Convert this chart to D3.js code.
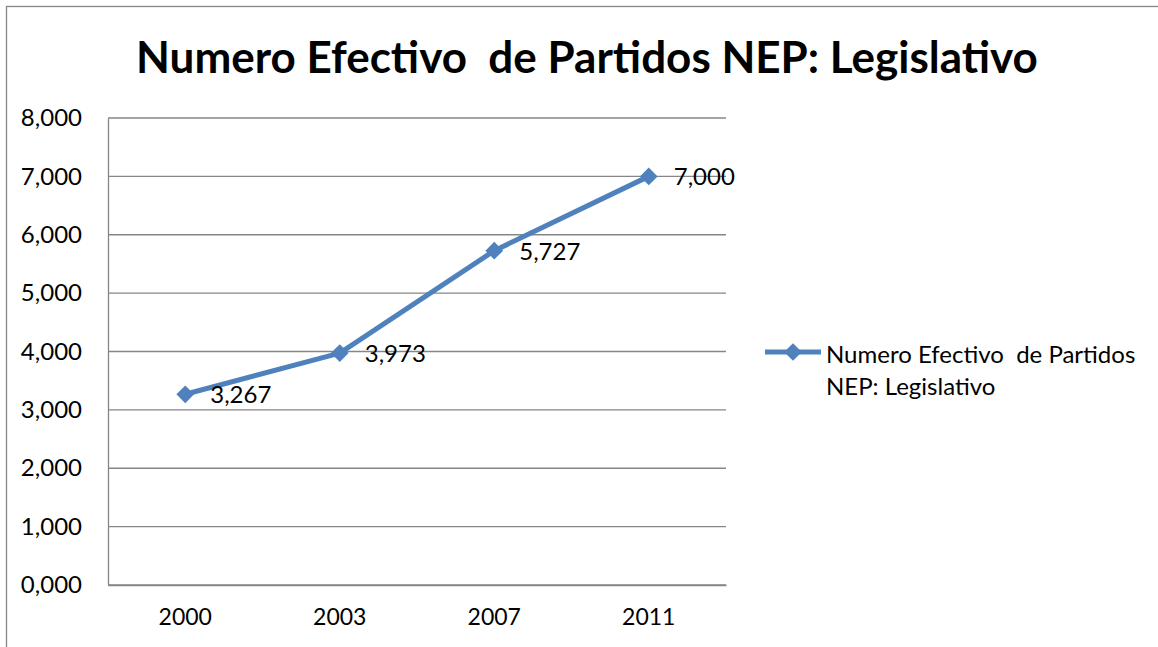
<!DOCTYPE html>
<html>
<head>
<meta charset="utf-8">
<script src="https://cdn.jsdelivr.net/npm/d3@7"></script>
<style>
body { margin: 0; background: #fff; }
text { font-family: Lato, "Open Sans", sans-serif; fill: #000; white-space: pre; }
</style>
</head>
<body>
<div id="chart"></div>
<script>
// data
var years = ['2000', '2003', '2007', '2011'];
var nepValues = [3.267, 3.973, 5.727, 7.000];
var yTicks = [0, 1, 2, 3, 4, 5, 6, 7, 8];
var seriesName = ['Numero Efectivo  de Partidos', 'NEP: Legislativo'];
var chartTitle = 'Numero Efectivo  de Partidos NEP: Legislativo';

var svgWidth = 1158,
svgHeight = 647;

var margin = {t: 118, r: 432, b: 62, l: 108};
var width = svgWidth - margin.l - margin.r,
height = svgHeight - margin.t - margin.b;

var lineColor = '#4f81bd';
var fmt = function(v) { return d3.format('.3f')(v).replace('.', ','); };

var svg = d3.select('#chart')
	.append('svg')
	.attr('width', svgWidth)
	.attr('height', svgHeight);

// outer frame
svg.append('rect')
	.attr('x', 6.5).attr('y', 6.5)
	.attr('width', svgWidth + 10).attr('height', svgHeight + 10)
	.attr('fill', 'none')
	.attr('stroke', '#868686')
	.attr('stroke-width', 1.3);

svg.append('text')
	.attr('x', 587)
	.attr('y', 73)
	.attr('text-anchor', 'middle')
	.style('font-size', '44px')
	.style('font-weight', 'bold')
	.text(chartTitle);

var chart1 = svg.append('g')
	.attr('transform', `translate(${margin.l},${margin.t})`);

var xScale = d3.scaleBand().domain(years).range([0, width]);
var yScale = d3.scaleLinear().domain([0, 8]).range([height, 0]);

// gridlines
chart1.append('g')
	.selectAll('line')
	.data(yTicks)
	.enter()
	.append('line')
	.attr('x1', 0).attr('x2', width)
	.attr('y1', d => yScale(d)).attr('y2', d => yScale(d))
	.attr('stroke', '#868686')
	.attr('stroke-width', 1.3);

// y axis
var yAxis = d3.axisLeft(yScale).tickValues(yTicks).tickFormat(fmt).tickSize(0).tickPadding(26);
var yG = chart1.append('g').call(yAxis);
yG.select('.domain').attr('stroke', '#868686').attr('stroke-width', 1.3);
yG.selectAll('text').style('font-size', '24px').attr('font-family', null);

// x axis
var xAxis = d3.axisBottom(xScale).tickSize(0).tickPadding(24);
var xG = chart1.append('g')
	.attr('transform', `translate(0,${height})`)
	.call(xAxis);
xG.select('.domain').attr('stroke', '#868686').attr('stroke-width', 1.3);
xG.selectAll('text').style('font-size', '23px').attr('font-family', null);

// line
var line = d3.line()
	.x((d, i) => xScale(years[i]) + xScale.bandwidth() / 2)
	.y(d => yScale(d));

chart1.append('path')
	.datum(nepValues)
	.attr('d', line)
	.attr('fill', 'none')
	.attr('stroke', lineColor)
	.attr('stroke-width', 5)
	.attr('stroke-linejoin', 'round');

var diamond = d3.symbol().type(d3.symbolDiamond2).size(200);

chart1.selectAll('.pt')
	.data(nepValues)
	.enter()
	.append('path')
	.attr('class', 'pt')
	.attr('d', diamond)
	.attr('transform', (d, i) => `translate(${xScale(years[i]) + xScale.bandwidth() / 2},${yScale(d)})`)
	.attr('fill', lineColor);

chart1.selectAll('.lbl')
	.data(nepValues)
	.enter()
	.append('text')
	.attr('class', 'lbl')
	.attr('x', (d, i) => xScale(years[i]) + xScale.bandwidth() / 2 + 25)
	.attr('y', d => yScale(d) + 9)
	.style('font-size', '24px')
	.text(fmt);

// legend
var legend = svg.append('g').attr('transform', 'translate(765,352)');
legend.append('line')
	.attr('x1', 0).attr('x2', 56)
	.attr('stroke', lineColor)
	.attr('stroke-width', 5);
legend.append('path')
	.attr('d', diamond)
	.attr('transform', 'translate(28,0)')
	.attr('fill', lineColor);
legend.selectAll('.leg')
	.data(seriesName)
	.enter()
	.append('text')
	.attr('x', 61)
	.attr('y', (d, i) => 11 + i * 32)
	.style('font-size', '24px')
	.text(d => d);
</script>
</body>
</html>
